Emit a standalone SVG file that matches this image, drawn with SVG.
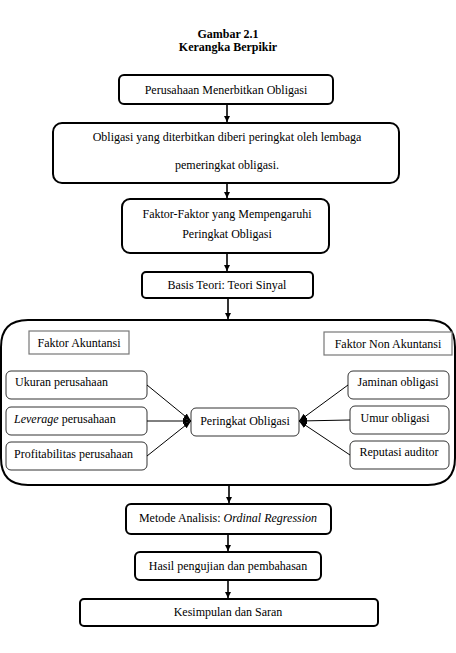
<svg xmlns="http://www.w3.org/2000/svg" width="456" height="653" viewBox="0 0 456 653">
<style>
text{font-family:"Liberation Serif","Times New Roman",serif;font-size:12px;fill:#000;text-anchor:middle}
.title{font-weight:bold}
.main{fill:#fff;stroke:#000;stroke-width:2}
.sub{fill:#fff;stroke:#333;stroke-width:1}
.lab{fill:#fff;stroke:#777;stroke-width:1.2}
.big{fill:none;stroke:#000;stroke-width:2}
.arr{stroke:#000;stroke-width:1.6;fill:none;marker-end:url(#ah)}
.ln{stroke:#000;stroke-width:1;fill:none;marker-end:url(#ah2)}
</style>
<defs>
<marker id="ah" markerWidth="8" markerHeight="8" refX="6" refY="4" orient="auto" markerUnits="userSpaceOnUse">
<path d="M0,1 L6,4 L0,7 Z" fill="#000"/>
</marker>
<marker id="ah2" markerWidth="10" markerHeight="10" refX="8" refY="5" orient="auto" markerUnits="userSpaceOnUse">
<path d="M0,2 L8,5 L0,8 Z" fill="#000"/>
</marker>
</defs>
<rect width="456" height="653" fill="#fff"/>
<g id="title">
<text class="title" x="228" y="38">Gambar 2.1</text>
<text class="title" x="228" y="51">Kerangka Berpikir</text>
</g>
<g id="frame">
<path class="big" d="M28,320 H428 Q455,320 455,347 V458 Q455,485 428,485 H28 Q1,485 1,458 V347 Q1,320 28,320 Z"/>
</g>
<g id="n1"><rect class="main" x="119" y="75" width="214" height="29" rx="5"/><text x="226" y="94">Perusahaan Menerbitkan Obligasi</text></g>
<g id="n2"><rect class="main" x="53" y="123" width="346" height="60" rx="9"/><text x="227" y="141">Obligasi yang diterbitkan diberi peringkat oleh lembaga</text><text x="227" y="169">pemeringkat obligasi.</text></g>
<g id="n3"><rect class="main" x="122" y="199" width="207" height="54" rx="8"/><text x="227" y="218">Faktor-Faktor yang Mempengaruhi</text><text x="227" y="238">Peringkat Obligasi</text></g>
<g id="n4"><rect class="main" x="142" y="272" width="171" height="26" rx="4"/><text x="227" y="289">Basis Teori: Teori Sinyal</text></g>
<g id="l1"><rect class="lab" x="29" y="331" width="100" height="23"/><text x="79" y="347">Faktor Akuntansi</text></g>
<g id="l2"><rect class="lab" x="324" y="332" width="128" height="23"/><text x="388" y="348">Faktor Non Akuntansi</text></g>
<g id="a1"><rect class="sub" x="6" y="371" width="141" height="28" rx="5"/><text x="15" y="386" style="text-anchor:start">Ukuran perusahaan</text></g>
<g id="a2"><rect class="sub" x="6" y="407" width="141" height="28" rx="5"/><text x="14" y="423" style="text-anchor:start"><tspan font-style="italic">Leverage</tspan> perusahaan</text></g>
<g id="a3"><rect class="sub" x="6" y="442" width="141" height="28" rx="5"/><text x="14" y="458" style="text-anchor:start">Profitabilitas perusahaan</text></g>
<g id="p"><rect class="sub" x="191" y="408" width="108" height="28" rx="5"/><text x="245" y="425">Peringkat Obligasi</text></g>
<g id="b1"><rect class="sub" x="348" y="371" width="101" height="28" rx="5"/><text x="398" y="386">Jaminan obligasi</text></g>
<g id="b2"><rect class="sub" x="350" y="406" width="99" height="28" rx="5"/><text x="395" y="422">Umur obligasi</text></g>
<g id="b3"><rect class="sub" x="350" y="441" width="99" height="28" rx="5"/><text x="399" y="456">Reputasi auditor</text></g>
<g id="m1"><rect class="main" x="126" y="504" width="205" height="30" rx="5"/><text x="228" y="522">Metode Analisis: <tspan font-style="italic">Ordinal Regression</tspan></text></g>
<g id="m2"><rect class="main" x="135" y="552" width="186" height="28" rx="5"/><text x="228" y="570">Hasil pengujian dan pembahasan</text></g>
<g id="m3"><rect class="main" x="80" y="599" width="298" height="27" rx="4"/><text x="228" y="616">Kesimpulan dan Saran</text></g>
<g id="connectors">
<line class="arr" x1="227" y1="104" x2="227" y2="122"/>
<line class="arr" x1="227" y1="183" x2="227" y2="198"/>
<line class="arr" x1="227" y1="253" x2="227" y2="271"/>
<line class="arr" x1="228" y1="298" x2="228" y2="319"/>
<line class="arr" x1="229" y1="485" x2="229" y2="503"/>
<line class="arr" x1="228" y1="534" x2="228" y2="551"/>
<line class="arr" x1="228" y1="580" x2="228" y2="598"/>
<line class="ln" x1="147" y1="385" x2="191" y2="421"/>
<line class="ln" x1="147" y1="421" x2="191" y2="421"/>
<line class="ln" x1="147" y1="456" x2="191" y2="421"/>
<line class="ln" x1="348" y1="385" x2="299" y2="421"/>
<line class="ln" x1="350" y1="420" x2="299" y2="421"/>
<line class="ln" x1="350" y1="455" x2="299" y2="421"/>
</g>
</svg>
